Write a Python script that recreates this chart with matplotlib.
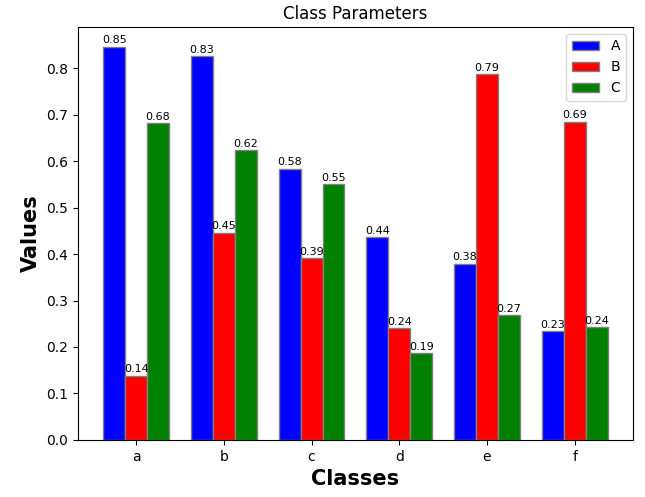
import numpy as np
import matplotlib
matplotlib.use('Agg')
import matplotlib.pyplot as plt

classes = ['a', 'b', 'c', 'd', 'e', 'f']
series_names = ['A', 'B', 'C']
values_a = [0.847, 0.826, 0.584, 0.437, 0.379, 0.234]
values_b = [0.138, 0.446, 0.391, 0.240, 0.788, 0.685]
values_c = [0.682, 0.624, 0.550, 0.186, 0.268, 0.242]
colors = ['blue', 'red', 'green']


def main():
    fig, ax = plt.subplots(figsize=(6.45, 4.97), dpi=100)
    x = np.arange(len(classes))
    width = 0.25

    for k, (name, vals) in enumerate(zip(series_names, [values_a, values_b, values_c])):
        bars = ax.bar(x + (k - 1) * width, vals, width, color=colors[k],
                      edgecolor='grey', label=name)
        for b, v in zip(bars, vals):
            ax.text(b.get_x() + b.get_width() / 2, v + 0.003, f"{v:.2f}",
                    ha='center', va='bottom', fontsize=8)

    ax.set_xticks(x)
    ax.set_xticklabels(classes)
    ax.set_xlabel('Classes', fontsize=15, fontweight='bold')
    ax.set_ylabel('Values', fontsize=15, fontweight='bold')
    ax.set_title('Class Parameters')
    ax.legend(loc='upper right')

    fig.subplots_adjust(left=0.121, right=0.981, top=0.946, bottom=0.115)
    fig.savefig('out.png', dpi=100)


if __name__ == "__main__":
    main()
